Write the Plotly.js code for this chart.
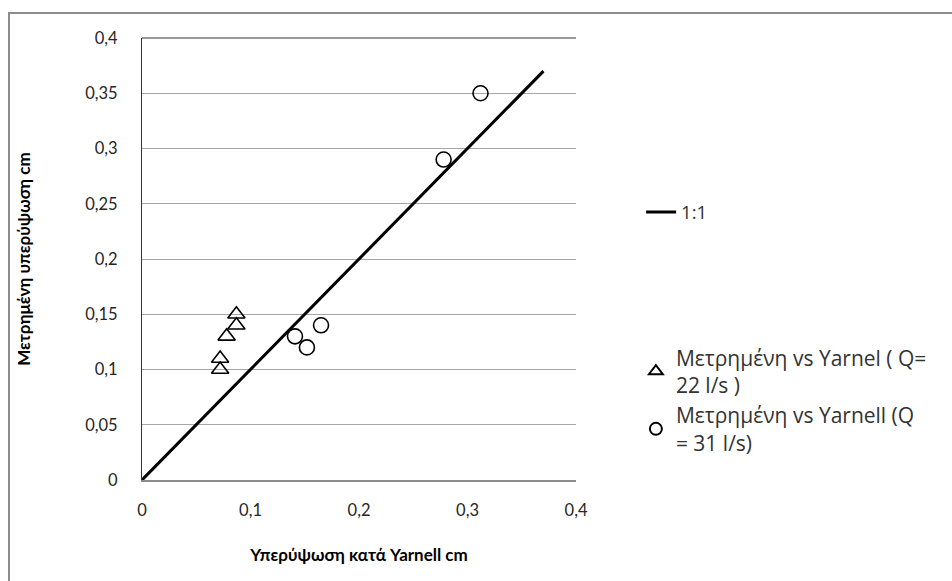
<!DOCTYPE html>
<html>
<head>
<meta charset="utf-8">
<script src="https://cdn.plot.ly/plotly-3.0.1.min.js"></script>
<style>
  html, body { margin: 0; padding: 0; background: #fff; }
  #wrap { position: relative; width: 952px; height: 581px; overflow: hidden; }
  #frame { position: absolute; left: 8px; top: 12px; width: 1000px; height: 700px;
           border: 2px solid #8c8c8c; box-sizing: border-box; }
  #chart { position: absolute; left: 0; top: 0; width: 952px; height: 581px; }
</style>
</head>
<body>
<div id="wrap">
  <div id="frame"></div>
  <div id="chart"></div>
</div>
<script>
// Q = 22 l/s : Yarnell prediction vs measured backwater (cm)
const yarnell22 = [0.072, 0.072, 0.078, 0.087, 0.087];
const measured22 = [0.10, 0.11, 0.13, 0.14, 0.15];

// Q = 31 l/s
const yarnell31 = [0.141, 0.152, 0.165, 0.278, 0.312];
const measured31 = [0.13, 0.12, 0.14, 0.29, 0.35];

// 1:1 reference line
const lineX = [0, 0.37];
const lineY = [0, 0.37];

const yTicks = [0, 0.05, 0.1, 0.15, 0.2, 0.25, 0.3, 0.35, 0.4];
const xTicks = [0, 0.1, 0.2, 0.3, 0.4];

const FONT = 'Lato, "Noto Sans", sans-serif';
const LEGEND_FONT = '"Open Sans", "Noto Sans", sans-serif';

const traces = [
  {
    x: lineX, y: lineY, mode: 'lines', name: '1:1',
    line: { color: '#000', width: 3 },
    legend: 'legend', hoverinfo: 'skip'
  },
  {
    x: yarnell22, y: measured22, mode: 'markers',
    name: 'Μετρημένη vs Yarnel ( Q=<br>22 l/s )',
    marker: { symbol: 'triangle-up-open', size: 15, color: '#000', line: { width: 1.6, color: '#000' } },
    legend: 'legend2'
  },
  {
    x: yarnell31, y: measured31, mode: 'markers',
    name: 'Μετρημένη vs Yarnell (Q<br>= 31 l/s)',
    marker: { symbol: 'circle-open', size: 15, color: '#000', line: { width: 1.6, color: '#000' } },
    legend: 'legend2'
  }
];

const layout = {
  width: 952, height: 581,
  paper_bgcolor: 'rgba(0,0,0,0)', plot_bgcolor: 'rgba(0,0,0,0)',
  separators: ', ',
  margin: { l: 142, r: 376, t: 38, b: 101 },
  font: { family: FONT, size: 16, color: '#262626' },
  showlegend: true,
  xaxis: {
    range: [0, 0.4], tickvals: xTicks, ticks: '', showgrid: false, zeroline: false,
    showline: true, linecolor: '#8c8c8c', linewidth: 1.5,
    tickfont: { family: FONT, size: 16.5, color: '#262626' },
    ticklabelstandoff: 15,
    title: { text: 'Υπερύψωση κατά Yarnell cm', font: { family: FONT, size: 17, color: '#000', weight: 'bold' }, standoff: 30 }
  },
  yaxis: {
    range: [0, 0.4], tickvals: yTicks, ticks: '', showgrid: true, gridcolor: '#a6a6a6', gridwidth: 1,
    zeroline: false, showline: true, linecolor: '#333', linewidth: 1,
    tickfont: { family: FONT, size: 16.5, color: '#262626' },
    ticklabelstandoff: 20,
    title: { text: 'Μετρημένη υπερύψωση cm', font: { family: FONT, size: 17, color: '#000', weight: 'bold' }, standoff: 50 }
  },
  shapes: [
    { type: 'line', xref: 'paper', yref: 'paper', x0: 0, x1: 1, y0: 1, y1: 1, line: { color: '#333', width: 1 } }
  ],
  legend: {
    x: 1.15, y: 0.605, xanchor: 'left', yanchor: 'middle',
    bgcolor: 'rgba(0,0,0,0)', borderwidth: 0,
    font: { family: LEGEND_FONT, size: 18.5, color: '#333' }
  },
  legend2: {
    x: 1.138, y: 0.18, xanchor: 'left', yanchor: 'middle',
    bgcolor: 'rgba(0,0,0,0)', borderwidth: 0, tracegroupgap: 0,
    itemsizing: 'constant',
    font: { family: LEGEND_FONT, size: 21, color: '#333' }
  }
};

Plotly.newPlot('chart', traces, layout, { displayModeBar: false, staticPlot: true });
</script>
</body>
</html>
